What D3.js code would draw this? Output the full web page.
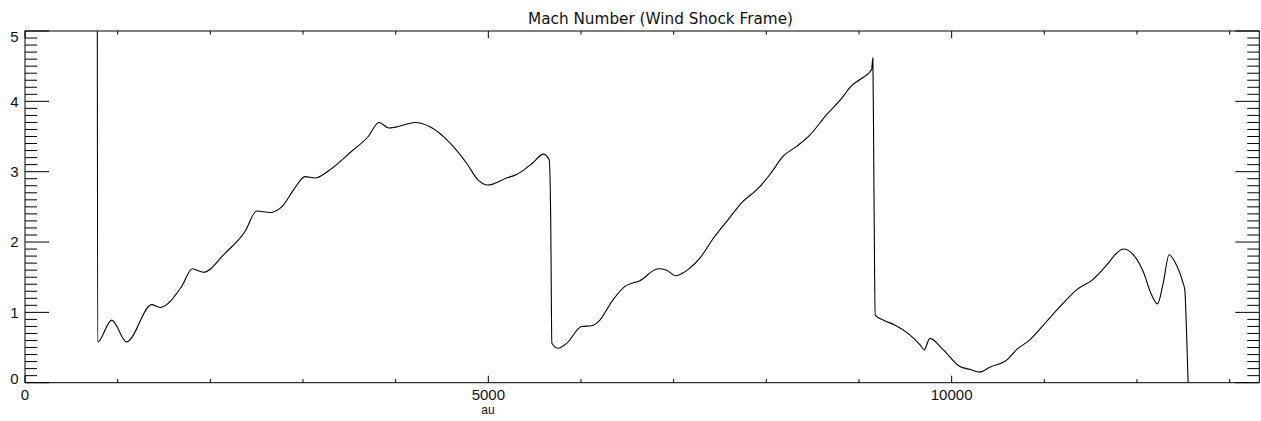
<!DOCTYPE html>
<html>
<head>
<meta charset="utf-8">
<script src="https://cdn.jsdelivr.net/npm/d3@7"></script>
<style>
  html, body { margin: 0; padding: 0; background: #fff; }
  svg { display: block; }
</style>
</head>
<body>
<svg id="chart" width="1261" height="421"></svg>
<script>
// Distance along the profile (au)
const distanceAu = [
  780, 784, 935, 1097, 1367, 1457, 1691, 1805, 1924, 2158, 2374, 2500, 2644, 2770,
  2913, 3021, 3129, 3273, 3525, 3704, 3820, 3928, 3992, 4208, 4370, 4586, 4766,
  4891, 4993, 5198, 5305, 5485, 5593, 5657, 5672, 5686, 5754, 5845, 6007, 6115,
  6204, 6330, 6474, 6636, 6833, 6924, 7021, 7175, 7283, 7427, 7571, 7751, 7895,
  8039, 8182, 8327, 8470, 8650, 8830, 8902, 9010, 9136, 9150, 9161, 9175, 9261,
  9387, 9549, 9657, 9704, 9765, 9908, 10089, 10197, 10305, 10412, 10592, 10700,
  10844, 11024, 11168, 11348, 11527, 11672, 11780, 11851, 11959, 12067, 12157,
  12222, 12282, 12347, 12408, 12492, 12516, 12534, 12552
];
// Mach number in the wind shock frame
const machNumber = [
  6.0, 0.58, 0.89, 0.58, 1.11, 1.07, 1.37, 1.62, 1.57, 1.84, 2.15, 2.44, 2.42, 2.50,
  2.77, 2.93, 2.91, 3.01, 3.29, 3.50, 3.70, 3.62, 3.63, 3.70, 3.64, 3.41, 3.12,
  2.88, 2.81, 2.91, 2.96, 3.13, 3.25, 3.17, 2.46, 0.56, 0.49, 0.56, 0.80, 0.81,
  0.89, 1.15, 1.37, 1.45, 1.62, 1.60, 1.52, 1.63, 1.77, 2.05, 2.29, 2.58, 2.74,
  2.96, 3.22, 3.36, 3.52, 3.81, 4.07, 4.20, 4.31, 4.45, 4.62, 2.84, 0.96, 0.89,
  0.82, 0.68, 0.54, 0.47, 0.63, 0.47, 0.23, 0.19, 0.15, 0.22, 0.32, 0.47,
  0.61, 0.87, 1.08, 1.32, 1.47, 1.67, 1.84, 1.90, 1.82, 1.58, 1.25,
  1.12, 1.41, 1.82, 1.72, 1.44, 1.32, 0.75, 0.0
];
const xMajorTicks = [0, 5000, 10000];
const xMinorTicks = [1000, 2000, 3000, 4000, 6000, 7000, 8000, 9000, 11000, 12000, 13000];
const yMajorTicks = [0, 1, 2, 3, 4, 5];
const yMinorTicks = d3.range(0, 50).filter(i => i % 10 !== 0).map(i => i / 10);
const titleText = "Mach Number (Wind Shock Frame)";
const xTitle = "au";

const svg = d3.select("#chart");
const plotLeft = 25, plotRight = 1259.3, plotTop = 31, plotBottom = 382.7;

const x = d3.scaleLinear().domain([0, 13320]).range([plotLeft, plotRight]);
const y = d3.scaleLinear().domain([0, 5]).range([plotBottom, plotTop]);

const labelFont = "'Liberation Sans', Arial, sans-serif";

// Clip region = plot window
svg.append("defs").append("clipPath").attr("id", "plotClip")
  .append("rect").attr("x", plotLeft).attr("y", plotTop)
  .attr("width", plotRight - plotLeft).attr("height", plotBottom - plotTop);

// Data curve
const pts = distanceAu.map((d, i) => [d, machNumber[i]]);
const line = d3.line()
  .x(d => x(d[0]))
  .y(d => y(d[1]))
  .curve(d3.curveMonotoneX);

svg.append("path")
  .datum(pts)
  .attr("clip-path", "url(#plotClip)")
  .attr("fill", "none")
  .attr("stroke", "#000")
  .attr("stroke-width", 1.1)
  .attr("stroke-linejoin", "round")
  .attr("d", line);

// Frame
svg.append("rect")
  .attr("x", plotLeft).attr("y", plotTop)
  .attr("width", plotRight - plotLeft).attr("height", plotBottom - plotTop)
  .attr("fill", "none").attr("stroke", "#000").attr("stroke-width", 1);

// X ticks (bottom and top, pointing inward)
const xt = svg.append("g").attr("stroke", "#000").attr("stroke-width", 1);
xMajorTicks.forEach(v => {
  xt.append("line").attr("x1", x(v)).attr("x2", x(v)).attr("y1", plotBottom).attr("y2", plotBottom - 7);
  xt.append("line").attr("x1", x(v)).attr("x2", x(v)).attr("y1", plotTop).attr("y2", plotTop + 7);
});
xMinorTicks.forEach(v => {
  xt.append("line").attr("x1", x(v)).attr("x2", x(v)).attr("y1", plotBottom).attr("y2", plotBottom - 3.5);
  xt.append("line").attr("x1", x(v)).attr("x2", x(v)).attr("y1", plotTop).attr("y2", plotTop + 3.5);
});

// Y ticks (left and right, pointing inward)
const yt = svg.append("g").attr("stroke", "#000").attr("stroke-width", 1);
yMajorTicks.forEach(v => {
  yt.append("line").attr("x1", plotLeft).attr("x2", plotLeft + 24).attr("y1", y(v)).attr("y2", y(v));
  yt.append("line").attr("x1", plotRight).attr("x2", plotRight - 24).attr("y1", y(v)).attr("y2", y(v));
});
yMinorTicks.forEach(v => {
  yt.append("line").attr("x1", plotLeft).attr("x2", plotLeft + 12).attr("y1", y(v)).attr("y2", y(v));
  yt.append("line").attr("x1", plotRight).attr("x2", plotRight - 12).attr("y1", y(v)).attr("y2", y(v));
});

// X tick labels
svg.append("g").selectAll("text").data(xMajorTicks).join("text")
  .attr("x", d => x(d))
  .attr("y", 399.8)
  .attr("text-anchor", "middle")
  .attr("font-family", labelFont)
  .attr("font-size", 15)
  .attr("fill", "#111")
  .text(d => d);

// Y tick labels (end labels kept inside the frame height)
svg.append("g").selectAll("text").data(yMajorTicks).join("text")
  .attr("x", 18.5)
  .attr("y", d => {
    let cy = y(d);
    if (d === 0) cy = 378.5;
    if (d === 5) cy = 36.5;
    return cy + 5.3;
  })
  .attr("text-anchor", "end")
  .attr("font-family", labelFont)
  .attr("font-size", 15)
  .attr("fill", "#111")
  .text(d => d);

// Titles
svg.append("text")
  .attr("x", 528).attr("y", 24)
  .attr("font-family", "'DejaVu Sans', sans-serif")
  .attr("font-size", 15)
  .attr("fill", "#111")
  .attr("textLength", 265)
  .attr("lengthAdjust", "spacingAndGlyphs")
  .text(titleText);

svg.append("text")
  .attr("x", 488).attr("y", 413.5)
  .attr("text-anchor", "middle")
  .attr("font-family", labelFont)
  .attr("font-size", 12)
  .attr("fill", "#111")
  .text(xTitle);
</script>
</body>
</html>
